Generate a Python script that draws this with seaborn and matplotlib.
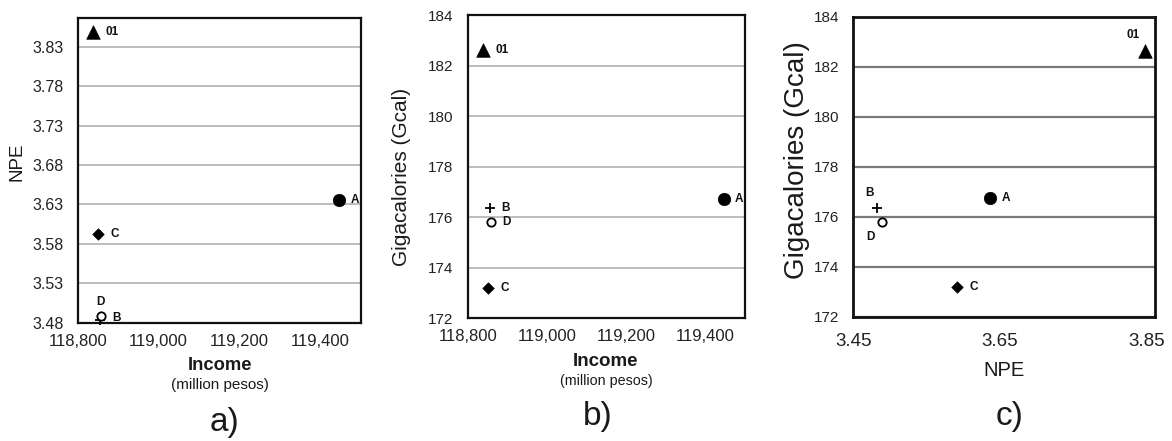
import numpy as np
import pandas as pd
import seaborn as sns
import matplotlib.pyplot as plt

# data
labels = ['01', 'A', 'B', 'C', 'D']
income = [118838, 119447, 118855, 118851, 118857]   # million pesos
npe = [3.849, 3.636, 3.483, 3.592, 3.489]
gcal = [182.62, 176.73, 176.35, 173.18, 175.80]

npe_ticks = [3.48, 3.53, 3.58, 3.63, 3.68, 3.73, 3.78, 3.83]
gcal_ticks = [172, 174, 176, 178, 180, 182, 184]
income_ticks = [118800, 119000, 119200, 119400]
npe_xticks = [3.45, 3.65, 3.85]

df = pd.DataFrame({'label': labels, 'income': income, 'npe': npe, 'gcal': gcal})

# marker look per point: marker, size, face, edge, linewidth
style = {
    '01': ('^', 95, 'black', 'black', 0.5),
    'A': ('o', 80, 'black', 'black', 0.5),
    'B': ('+', 55, 'black', 'black', 1.3),
    'C': ('D', 34, 'black', 'black', 0.5),
    'D': ('o', 36, 'white', 'black', 1.3),
}

sns.set_style('white')
plt.rcParams['font.family'] = ['Liberation Sans', 'DejaVu Sans']

W, H = 1172, 441
fig = plt.figure(figsize=(W / 100, H / 100), dpi=100)


def px_axes(l, t, r, b):
    return fig.add_axes([l / W, 1 - b / H, (r - l) / W, (b - t) / H])


def draw(ax, xcol, ycol, offsets, gcolor, glw, slw):
    ax.yaxis.grid(True, color=gcolor, lw=glw, zorder=0)
    ax.xaxis.grid(False)
    ax.set_axisbelow(True)
    for _, row in df.iterrows():
        m, s, fc, ec, lw = style[row['label']]
        if m == '+':
            sns.scatterplot(x=[row[xcol]], y=[row[ycol]], marker=m, s=s,
                            color=ec, linewidth=lw, ax=ax, zorder=3, clip_on=False)
        else:
            sns.scatterplot(x=[row[xcol]], y=[row[ycol]], marker=m, s=s,
                            color=fc, edgecolor=ec, linewidth=lw, ax=ax,
                            zorder=3, clip_on=False)
        dx, dy, ha = offsets[row['label']]
        ax.annotate(row['label'], (row[xcol], row[ycol]), xytext=(dx * 0.72, dy * 0.72),
                    textcoords='offset points', ha=ha, va='center',
                    fontsize=8.5, fontweight='bold', color='#111111')
    for sp in ax.spines.values():
        sp.set_visible(True)
        sp.set_color('#111111')
        sp.set_linewidth(slw)
    ax.set_xlabel('')
    ax.set_ylabel('')


# a) NPE vs income
ax1 = px_axes(77.7, 18.3, 361, 322.7)
draw(ax1, 'income', 'npe', {
    '01': (12, 0, 'left'), 'A': (12, 0, 'left'), 'C': (12, 0, 'left'),
    'D': (0, 14, 'center'), 'B': (12, 2, 'left')}, '#ababab', 1.1, 1.6)
ax1.set_xlim(118800, 119502)
ax1.set_ylim(3.48, 3.866)
ax1.set_yticks(npe_ticks)
ax1.set_yticklabels([f'{v:.2f}' for v in npe_ticks])
ax1.set_xticks(income_ticks)
ax1.set_xticklabels([f'{v:,}' for v in income_ticks])
ax1.tick_params(axis='both', length=0, labelsize=12, colors='#222222')
ax1.tick_params(axis='y', labelsize=11.5, pad=10)
ax1.tick_params(axis='x', pad=8)

# b) Gcal vs income
ax2 = px_axes(468.3, 15, 745, 318.3)
draw(ax2, 'income', 'gcal', {
    '01': (12, 0, 'left'), 'A': (11, 0, 'left'), 'C': (12, 0, 'left'),
    'D': (11, 0, 'left'), 'B': (11, 0, 'left')}, '#ababab', 1.1, 1.6)
ax2.set_xlim(118800, 119500)
ax2.set_ylim(172, 184)
ax2.set_yticks(gcal_ticks)
ax2.set_xticks(income_ticks)
ax2.set_xticklabels([f'{v:,}' for v in income_ticks])
ax2.tick_params(axis='both', length=0, labelsize=12, colors='#222222')
ax2.tick_params(axis='y', labelsize=11, pad=11)
ax2.tick_params(axis='x', pad=8)

# c) Gcal vs NPE
ax3 = px_axes(853.3, 16.7, 1155, 316.7)
draw(ax3, 'npe', 'gcal', {
    '01': (-12, 16, 'center'), 'A': (12, 0, 'left'), 'C': (12, 0, 'left'),
    'B': (-8, 15, 'center'), 'D': (-11, -15, 'center')}, '#7a7a7a', 1.6, 2.0)
ax3.set_xlim(3.45, 3.862)
ax3.set_ylim(172, 184)
ax3.set_yticks(gcal_ticks)
ax3.set_xticks(npe_xticks)
ax3.set_xticklabels([f'{v:.2f}' for v in npe_xticks])
ax3.tick_params(axis='y', length=0, labelsize=11, pad=10, colors='#222222')
ax3.tick_params(axis='x', direction='in', length=3, color='#cccccc',
                labelsize=13.5, pad=12, labelcolor='#222222')

# axis titles and panel tags
def ftext(x, y, s, **kw):
    fig.text(x / W, 1 - y / H, s, ha='center', va='center', color='#1a1a1a', **kw)

ftext(16.7, 161.7, 'NPE', fontsize=13.5, rotation=90)
ftext(220, 366, 'Income', fontsize=13.2, fontweight='bold')
ftext(220, 385, '(million pesos)', fontsize=11)
ftext(224, 422, 'a)', fontsize=24)

ftext(401.7, 176.7, 'Gigacalories (Gcal)', fontsize=15, rotation=90)
ftext(606, 361, 'Income', fontsize=13.5, fontweight='bold')
ftext(606, 381, '(million pesos)', fontsize=10.3)
ftext(598, 416, 'b)', fontsize=24)

ftext(796.7, 160, 'Gigacalories (Gcal)', fontsize=20, rotation=90)
ftext(1004, 371, 'NPE', fontsize=14.5)
ftext(1010, 416, 'c)', fontsize=24)

fig.savefig('out.png', dpi=100)
